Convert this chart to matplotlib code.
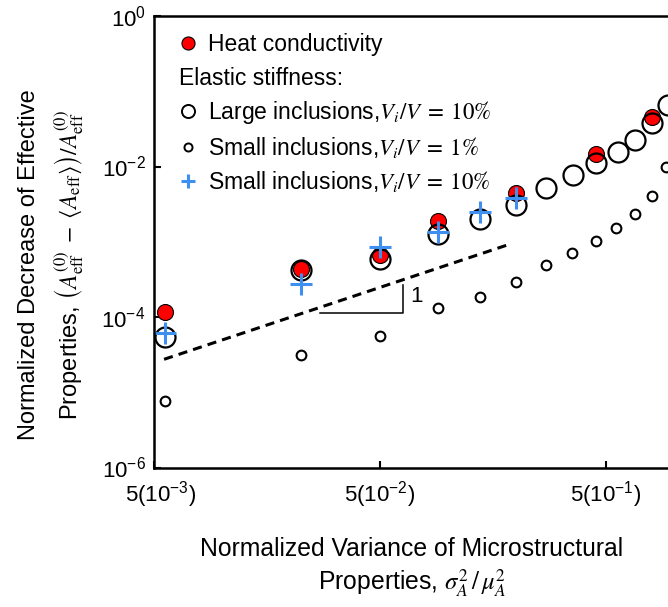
import matplotlib.pyplot as plt
import matplotlib.transforms as mtransforms
from matplotlib.lines import Line2D

plt.rcParams['font.family'] = ['Liberation Sans', 'DejaVu Sans']
plt.rcParams['mathtext.fontset'] = 'stix'

# Heat conductivity (filled red)
heat_x = [0.0056, 0.0223, 0.050, 0.090, 0.199, 0.453, 0.80]
heat_y = [1.16e-4, 4.35e-4, 6.7e-4, 1.89e-3, 4.4e-3, 1.47e-2, 4.5e-2]

# Elastic stiffness, large inclusions Vi/V = 10%
large_x = [0.0056, 0.0223, 0.050, 0.090, 0.139, 0.199, 0.272, 0.357, 0.453, 0.565, 0.67, 0.80, 0.94]
large_y = [5.5e-5, 4.2e-4, 5.9e-4, 1.26e-3, 2.0e-3, 3.08e-3, 5.2e-3, 7.7e-3, 1.10e-2, 1.57e-2, 2.25e-2, 3.75e-2, 6.6e-2]

# Elastic stiffness, small inclusions Vi/V = 1%
small1_x = [0.0056, 0.0224, 0.050, 0.090, 0.139, 0.199, 0.272, 0.354, 0.45, 0.556, 0.675, 0.80, 0.925]
small1_y = [7.65e-6, 3.13e-5, 5.65e-5, 1.3e-4, 1.86e-4, 2.89e-4, 4.9e-4, 7.16e-4, 1.02e-3, 1.54e-3, 2.32e-3, 4.05e-3, 1.0e-2]

# Elastic stiffness, small inclusions Vi/V = 10%
small10_x = [0.0056, 0.0223, 0.050, 0.090, 0.139, 0.199]
small10_y = [6.07e-5, 2.72e-4, 8.44e-4, 1.36e-3, 2.46e-3, 3.78e-3]

# slope-1 guide line and triangle
ref_x = [0.00554, 0.19]
ref_y = [2.74e-5, 9.4e-4]
tri_x = [0.027, 0.063, 0.063]
tri_y = [1.12e-4, 1.12e-4, 2.66e-4]

xticks = [5e-3, 5e-2, 5e-1]
xtick_labels = [r'$\mathregular{5(10^{-3})}$', r'$\mathregular{5(10^{-2})}$', r'$\mathregular{5(10^{-1})}$']
yticks = [1e-6, 1e-4, 1e-2, 1e0]
ytick_labels = [r'$\mathregular{10^{-6}}$', r'$\mathregular{10^{-4}}$', r'$\mathregular{10^{-2}}$', r'$\mathregular{10^{0}}$']

blue = '#3d8ff0'

fig = plt.figure(figsize=(6.68, 6.07), dpi=100)
ax = fig.add_axes([154 / 668, 139.5 / 607, 520 / 668, 451.5 / 607])

ax.plot(ref_x, ref_y, color='black', lw=2.2, ls=(0, (3, 2)))
ax.plot(tri_x, tri_y, color='black', lw=1.1)
ax.text(0.068, 1.9e-4, '1', fontsize=16, ha='left', va='center')

ax.plot(heat_x, heat_y, ls='none', marker='o', ms=11.5, mfc='red', mec='black', mew=0.8)
ax.plot(large_x, large_y, ls='none', marker='o', ms=14.4, mfc='none', mec='black', mew=1.6)
ax.plot(small1_x, small1_y, ls='none', marker='o', ms=7, mfc='none', mec='black', mew=1.5)
ax.plot(small10_x, small10_y, ls='none', marker='+', ms=16, mec=blue, mew=2.2)

ax.set_xscale('log')
ax.set_yscale('log')
ax.set_xlim(5e-3, 1)
ax.set_ylim(1e-6, 1)
ax.set_xticks(xticks)
ax.set_xticklabels(xtick_labels)
ax.set_yticks(yticks)
ax.set_yticklabels(ytick_labels)
ax.minorticks_off()
ax.tick_params(direction='in', length=5, width=1.5, labelsize=16)
ax.tick_params(axis='x', pad=8)
ax.tick_params(axis='y', pad=6)
for s in ax.spines.values():
    s.set_linewidth(1.8)

# nudge the first x tick label right, as in the original
first = ax.get_xticklabels()[0]
first.set_transform(first.get_transform() + mtransforms.ScaledTranslation(0.07, 0, fig.dpi_scale_trans))

# legend
h_heat = Line2D([], [], ls='none', marker='o', ms=9.4, mfc='red', mec='black', mew=0.8)
h_large = Line2D([], [], ls='none', marker='o', ms=9.4, mfc='none', mec='black', mew=1.4)
h_small = Line2D([], [], ls='none', marker='o', ms=5.8, mfc='none', mec='black', mew=1.4)
h_plus = Line2D([], [], ls='none', marker='+', ms=10, mec=blue, mew=2.2)

leg_kw = dict(loc='upper left', bbox_transform=fig.transFigure, frameon=False,
              borderpad=0, borderaxespad=0, handlelength=0.8, handletextpad=0.48,
              numpoints=1, fontsize=16.5)
leg1 = ax.legend([h_heat], ['Heat conductivity'],
                 bbox_to_anchor=(178.8 / 668, 1 - 33 / 607), **leg_kw)
ax.add_artist(leg1)
ax.legend([h_large, h_small, h_plus],
          [r'Large inclusions,$V_i/V\;=\;10\%$',
           r'Small inclusions,$V_i/V\;=\;1\%$',
           r'Small inclusions,$V_i/V\;=\;10\%$'],
          title='Elastic stiffness:', title_fontsize=16.5, alignment='left',
          labelspacing=0.4, bbox_to_anchor=(178.8 / 668, 1 - 67 / 607), **leg_kw)

fig.text(52 / 668, 1 - 265 / 607,
         'Normalized Decrease of Effective\n'
         r'Properties, $\left(A_{\rm eff}^{(0)}\;-\;\langle A_{\rm eff}\rangle\right)/A_{\rm eff}^{(0)}$',
         rotation=90, ha='center', va='center', multialignment='center',
         fontsize=17, linespacing=1.45)
fig.text(412 / 668, 1 - 568 / 607,
         'Normalized Variance of Microstructural\n'
         r'Properties, $\sigma_A^2\,/\,\mu_A^2$',
         ha='center', va='center', multialignment='center', fontsize=17.8, linespacing=1.3)

fig.savefig('out.png', dpi=100)
